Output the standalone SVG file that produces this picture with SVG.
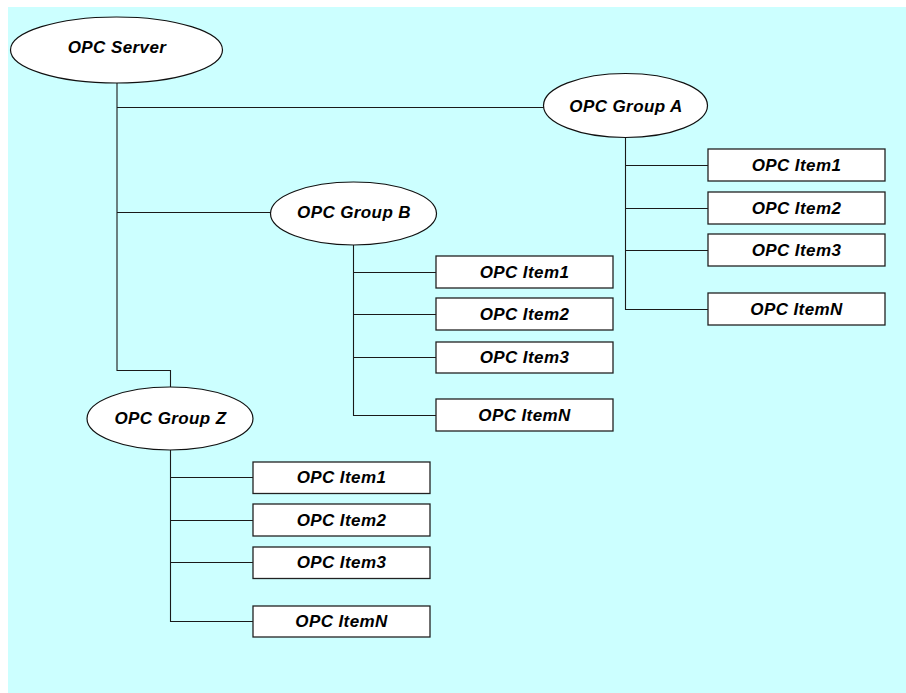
<svg xmlns="http://www.w3.org/2000/svg" width="906" height="693" viewBox="0 0 906 693">
<style>
.bg{fill:#CCFFFF}
.el{fill:#FFFFFF;stroke:#111;stroke-width:1.2}
.bx{fill:#FFFFFF;stroke:#222;stroke-width:1.3}
.t{font-family:"Liberation Sans",Arial,sans-serif;font-weight:bold;font-style:italic;font-size:17px;letter-spacing:0.4px;fill:#000;text-anchor:middle}
.c{fill:none;stroke:#1a1a1a;stroke-width:1.1}
</style>
<rect class="bg" x="8" y="7" width="898" height="686"/>
<g id="connectors">
<path class="c" d="M117 83 V370.5 H170.5 V387"/>
<path class="c" d="M117 107.5 H544"/>
<path class="c" d="M117 212.5 H271"/>
<path class="c" d="M625.5 137 V309.5 H708 M625.5 165.5 H708 M625.5 208.5 H708 M625.5 250.5 H708"/>
<path class="c" d="M353.5 245 V415.5 H436 M353.5 272.5 H436 M353.5 314.5 H436 M353.5 357.5 H436"/>
<path class="c" d="M170.5 450 V621.5 H253 M170.5 477.5 H253 M170.5 520.5 H253 M170.5 562.5 H253"/>
</g>
<g id="server"><ellipse class="el" cx="116.5" cy="50" rx="106" ry="33"/><text class="t" x="117" y="52.5">OPC Server</text></g>
<g id="groupA"><ellipse class="el" cx="625.5" cy="105.5" rx="82" ry="32"/><text class="t" x="626" y="112">OPC Group A</text></g>
<g id="groupB"><ellipse class="el" cx="353.5" cy="213.5" rx="83" ry="31.5"/><text class="t" x="354" y="217.5">OPC Group B</text></g>
<g id="groupZ"><ellipse class="el" cx="170" cy="418.5" rx="83" ry="31.5"/><text class="t" x="170.5" y="423.5">OPC Group Z</text></g>
<g id="a1"><rect class="bx" x="708" y="149" width="177" height="32"/><text class="t" x="796.5" y="170.5">OPC Item1</text></g>
<g id="a2"><rect class="bx" x="708" y="192" width="177" height="32"/><text class="t" x="796.5" y="213.5">OPC Item2</text></g>
<g id="a3"><rect class="bx" x="708" y="234" width="177" height="32"/><text class="t" x="796.5" y="255.5">OPC Item3</text></g>
<g id="aN"><rect class="bx" x="708" y="293" width="177" height="32"/><text class="t" x="796.5" y="314.5">OPC ItemN</text></g>
<g id="b1"><rect class="bx" x="436" y="256" width="177" height="32"/><text class="t" x="524.5" y="277.5">OPC Item1</text></g>
<g id="b2"><rect class="bx" x="436" y="298" width="177" height="32"/><text class="t" x="524.5" y="319.5">OPC Item2</text></g>
<g id="b3"><rect class="bx" x="436" y="342" width="177" height="31"/><text class="t" x="524.5" y="363">OPC Item3</text></g>
<g id="bN"><rect class="bx" x="436" y="399" width="177" height="32"/><text class="t" x="524.5" y="420.5">OPC ItemN</text></g>
<g id="z1"><rect class="bx" x="253" y="462" width="177" height="31.5"/><text class="t" x="341.5" y="483">OPC Item1</text></g>
<g id="z2"><rect class="bx" x="253" y="504" width="177" height="32"/><text class="t" x="341.5" y="525.5">OPC Item2</text></g>
<g id="z3"><rect class="bx" x="253" y="547" width="177" height="31.5"/><text class="t" x="341.5" y="568">OPC Item3</text></g>
<g id="zN"><rect class="bx" x="253" y="606" width="177" height="31"/><text class="t" x="341.5" y="627">OPC ItemN</text></g>
</svg>
